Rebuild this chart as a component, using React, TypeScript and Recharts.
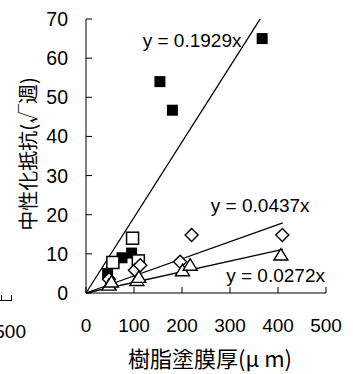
import React from 'react';
import { ScatterChart, Scatter, XAxis, YAxis, ReferenceLine, ReferenceDot } from 'recharts';

// ---- data ----
const xTicks = [0, 100, 200, 300, 400, 500];
const yTicks = [0, 10, 20, 30, 40, 50, 60, 70];

const filledSquareX = [45, 75, 95, 154, 180, 367];
const filledSquareY = [5, 9, 10.2, 54, 46.7, 65];

const openSquareX = [56, 97, 109];
const openSquareY = [7.8, 14, 8.2];

const diamondX = [48, 102, 113, 196, 220, 409];
const diamondY = [3.5, 5.8, 7.1, 8, 14.8, 14.8];

const triangleX = [48, 53, 106, 110, 201, 217, 406];
const triangleY = [2, 2.8, 3.2, 4, 5.7, 7.1, 9.7];

const trendSlopes = [0.1929, 0.0437, 0.0272];
const trendEndX = [363, 410, 410];
const equationTexts = ['y = 0.1929x', 'y = 0.0437x', 'y = 0.0272x'];
const equationAtX = [221, 363, 395];
const equationAtY = [64.6, 22.4, 4.6];

const xTitle = '樹脂塗膜厚(μ m)';
const yTitle = '中性化抵抗(√週)';

const toPoints = (xs: number[], ys: number[]) => xs.map((x, i) => ({ x, y: ys[i] }));

const NUM_FONT = '"Liberation Sans", Arial, sans-serif';
const CJK_FONT = '"Noto Sans CJK JP", sans-serif';

const FilledSquare = (p: any) => (
  <rect x={p.cx - 5.5} y={p.cy - 5.5} width={11} height={11} fill="#000" />
);
const OpenSquare = (p: any) => (
  <rect x={p.cx - 6} y={p.cy - 6} width={12} height={12} fill="#fff" stroke="#000" strokeWidth={1.5} />
);
const Diamond = (p: any) => (
  <polygon
    points={`${p.cx},${p.cy - 6.5} ${p.cx + 6.5},${p.cy} ${p.cx},${p.cy + 6.5} ${p.cx - 6.5},${p.cy}`}
    fill="#fff"
    stroke="#000"
    strokeWidth={1.4}
  />
);
const Triangle = (p: any) => (
  <polygon
    points={`${p.cx},${p.cy - 6.5} ${p.cx + 7},${p.cy + 5} ${p.cx - 7},${p.cy + 5}`}
    fill="#fff"
    stroke="#000"
    strokeWidth={1.4}
  />
);

const YTick = (props: any) => {
  const { x, y, payload } = props;
  return (
    <g>
      <line x1={x} y1={y} x2={x + 6} y2={y} stroke="#000" strokeWidth={1} />
      <text x={x - 18} y={y} textAnchor="end" dominantBaseline="central" fontSize={19.5} fontFamily={NUM_FONT} fill="#000">
        {payload.value}
      </text>
    </g>
  );
};

const XTick = (props: any) => {
  const { x, y, payload } = props;
  return (
    <g>
      <line x1={x} y1={y} x2={x} y2={y - 6} stroke="#000" strokeWidth={1} />
      <text x={x} y={y + 32} textAnchor="middle" dominantBaseline="central" fontSize={19} fontFamily={NUM_FONT} fill="#000">
        {payload.value}
      </text>
    </g>
  );
};

const XTitle = (props: any) => {
  const vb = props.viewBox;
  return (
    <text x={vb.x + vb.width / 2 + 4} y={vb.y + 64} textAnchor="middle" dominantBaseline="central" fontSize={22} fontFamily={CJK_FONT} fill="#000">
      {xTitle}
    </text>
  );
};

const YTitle = (props: any) => {
  const vb = props.viewBox;
  const cx = vb.x + 1;
  const cy = vb.y + vb.height / 2 - 2;
  return (
    <text x={cx} y={cy} transform={`rotate(-90 ${cx} ${cy})`} textAnchor="middle" dominantBaseline="central" fontSize={20} fontFamily={CJK_FONT} fill="#000">
      {yTitle}
    </text>
  );
};

export default function App() {
  return (
    <div style={{ position: 'absolute', left: 0, top: 0, width: 353, height: 374, overflow: 'hidden', background: '#fff' }}>
      {/* fragment of a neighbouring chart at the left edge */}
      <div style={{ position: 'absolute', left: 0, top: 300, width: 12, height: 0, borderTop: '1px solid #000' }} />
      <div style={{ position: 'absolute', left: 11, top: 295, width: 0, height: 6, borderLeft: '1px solid #000' }} />
      <div style={{ position: 'absolute', left: 1, top: 295, width: 0, height: 5, borderLeft: '1px solid #000' }} />
      <div style={{ position: 'absolute', right: 327, top: 322, fontFamily: NUM_FONT, fontSize: 19, lineHeight: '20px', color: '#000', whiteSpace: 'nowrap' }}>500</div>
      <ScatterChart width={353} height={374} margin={{ top: 19, right: 27, bottom: 51, left: 26 }}>
        <XAxis
          type="number"
          dataKey="x"
          domain={[0, 500]}
          ticks={xTicks}
          interval={0}
          height={30}
          tickSize={0}
          tickMargin={0}
          tickLine={false}
          axisLine={{ stroke: '#000', strokeWidth: 1 }}
          tick={<XTick />}
          label={<XTitle />}
        />
        <YAxis
          type="number"
          dataKey="y"
          domain={[0, 70]}
          ticks={yTicks}
          interval={0}
          width={60}
          tickSize={0}
          tickMargin={0}
          tickLine={false}
          axisLine={{ stroke: '#000', strokeWidth: 1 }}
          tick={<YTick />}
          label={<YTitle />}
        />
        {trendSlopes.map((s, i) => (
          <ReferenceLine
            key={'t' + i}
            segment={[{ x: 0, y: 0 }, { x: trendEndX[i], y: s * trendEndX[i] }]}
            stroke="#000"
            strokeWidth={1.3}
            ifOverflow="visible"
          />
        ))}
        <Scatter data={toPoints(filledSquareX, filledSquareY)} shape={FilledSquare} isAnimationActive={false} />
        <Scatter data={toPoints(openSquareX, openSquareY)} shape={OpenSquare} isAnimationActive={false} />
        <Scatter data={toPoints(diamondX, diamondY)} shape={Diamond} isAnimationActive={false} />
        <Scatter data={toPoints(triangleX, triangleY)} shape={Triangle} isAnimationActive={false} />
        {equationTexts.map((t, i) => (
          <ReferenceDot
            key={'e' + i}
            x={equationAtX[i]}
            y={equationAtY[i]}
            r={0}
            fill="none"
            stroke="none"
            ifOverflow="visible"
            label={{ value: t, position: 'center', fontSize: 19, fontFamily: NUM_FONT, fill: '#000' }}
          />
        ))}
      </ScatterChart>
    </div>
  );
}
